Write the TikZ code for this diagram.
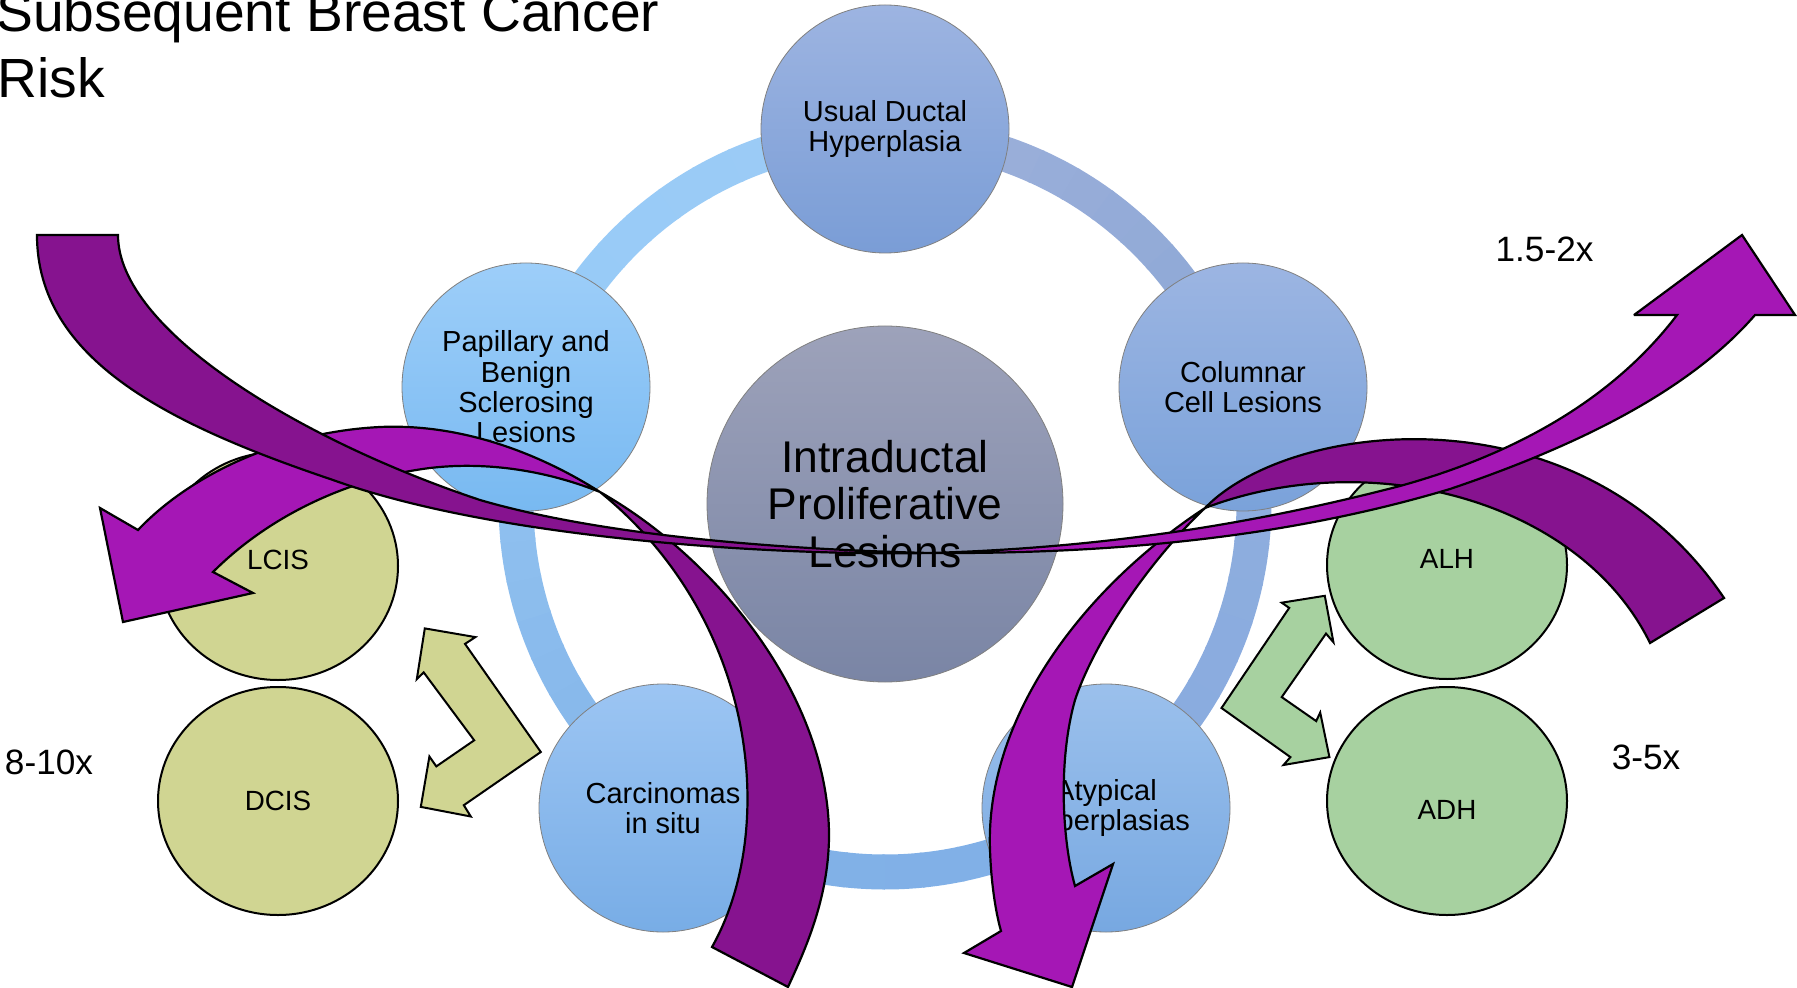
\documentclass[tikz,border=0pt]{standalone}
\usepackage{fontspec}
\setmainfont{Liberation Sans}
\usetikzlibrary{shapes.geometric}
\definecolor{pdark}{HTML}{86138F}
\definecolor{plight}{HTML}{A517B5}
\definecolor{khaki}{HTML}{D0D592}
\definecolor{mint}{HTML}{A7D1A0}
\definecolor{cenTop}{HTML}{9DA2BA}
\definecolor{cenBot}{HTML}{7A85A5}
\definecolor{usTop}{HTML}{9DB4E1}
\definecolor{usBot}{HTML}{7A9DD6}
\definecolor{paTop}{HTML}{9DCEF9}
\definecolor{paBot}{HTML}{78B9F1}
\definecolor{coTop}{HTML}{9CB5E2}
\definecolor{coBot}{HTML}{7AA2DA}
\definecolor{caTop}{HTML}{9CC5F3}
\definecolor{caBot}{HTML}{78ADE6}
\definecolor{atTop}{HTML}{9BC0EC}
\definecolor{atBot}{HTML}{77A8E1}
\definecolor{rA}{HTML}{9DB1DB}
\definecolor{rB}{HTML}{8DA7D5}
\definecolor{rC}{HTML}{91AEDD}
\definecolor{rD}{HTML}{87ABE0}
\definecolor{rE}{HTML}{80AFE6}
\definecolor{rF}{HTML}{82B2E8}
\definecolor{rG}{HTML}{84B5E9}
\definecolor{rH}{HTML}{92C3F1}
\definecolor{rI}{HTML}{96CAF7}
\definecolor{rJ}{HTML}{9DCCF6}
\newcommand\myringarc[4]{%
  \foreach \k in {0,...,11}{%
    \pgfmathsetmacro\angA{#1+(#2-#1)*\k/12}%
    \pgfmathsetmacro\angB{#1+(#2-#1)*(\k+1)/12+0.4}%
    \pgfmathtruncatemacro\pmix{100-100*\k/11}%
    \draw[ringline, draw=#3!\pmix!#4] (C) ++(\angA:369) arc[start angle=\angA, end angle=\angB, radius=369];
  }}
\tikzset{
  ringline/.style={line width=17.5pt},
  sat/.style={circle, minimum size=124pt, inner sep=0pt, draw=black!50, line width=0.4pt, align=center, font=\fontsize{14.5}{15.2}\selectfont},
  lobe/.style={ellipse, minimum width=120pt, minimum height=114pt, inner sep=0pt, draw=black, line width=1pt, font=\fontsize{13.9}{15}\selectfont},
  lbl/.style={inner sep=0pt, font=\fontsize{17.6}{20}\selectfont},
  ttl/.style={anchor=base west, inner sep=0pt, font=\fontsize{27.6}{33}\selectfont},
  dbl/.style={draw=black, line width=1pt, line join=miter},
  arrowline/.style={draw=black, line width=1.1pt, line join=miter, miter limit=3},
}
\begin{document}
\begin{tikzpicture}[x=0.5pt,y=-0.5pt]
\useasboundingbox (0,0) rectangle (1797,988);
\clip (0,0) rectangle (1797,988);
\fill[white] (0,0) rectangle (1797,988);

% ring
\coordinate (C) at (885,503);
\myringarc{270}{342}{rA}{rB}
\myringarc{342}{414}{rC}{rD}
\myringarc{54}{126}{rE}{rF}
\myringarc{126}{198}{rG}{rH}
\myringarc{198}{270}{rI}{rJ}

% centre
\node[circle, minimum size=178pt, inner sep=0pt, draw=black!50, line width=0.4pt,
      top color=cenTop, bottom color=cenBot, align=center,
      font=\fontsize{22.2}{23.75}\selectfont] (center) at (885,504) {Intraductal\\Proliferative\\Lesions};

% satellites
\node[sat, top color=usTop, bottom color=usBot] (usual) at (885,129) {Usual Ductal\\Hyperplasia};
\node[sat, top color=paTop, bottom color=paBot] (papillary) at (526,387) {Papillary and\\Benign\\Sclerosing\\Lesions};
\node[sat, top color=coTop, bottom color=coBot] (columnar) at (1243,387) {Columnar\\Cell Lesions};
\node[sat, top color=caTop, bottom color=caBot] (carcinomas) at (663,808) {Carcinomas\\in situ};
\node[sat, top color=atTop, bottom color=atBot] (atypical) at (1106,808) {Atypical\\Hyperplasias};

% lobes
\node[lobe, fill=khaki, text depth=6pt] (lcis) at (278,566) {LCIS};
\node[lobe, fill=khaki] (dcis) at (278,801) {DCIS};
\node[lobe, fill=mint, text depth=6pt] (alh) at (1447,565) {ALH};
\node[lobe, fill=mint, text height=18.5pt] (adh) at (1447,801) {ADH};

% double arrows
\filldraw[dbl, fill=khaki] (424.8,628.4) -- (475.4,637.1) -- (465,643.9) -- (540.8,752) -- (463.8,805.2) -- (470.8,816.5) -- (420.8,806.9) -- (429.4,756.5) -- (436.3,766.4) -- (474.2,740.3) -- (423.7,672.4) -- (416.8,679.2) -- cycle;
\filldraw[dbl, fill=mint] (1324.8,595.8) -- (1333.4,642.2) -- (1326,633.6) -- (1281.7,697.1) -- (1316.2,721.1) -- (1320.2,712.5) -- (1329.4,757.1) -- (1283.5,765) -- (1290.4,757.1) -- (1221.5,708) -- (1289.2,607.9) -- (1281.7,602.7) -- cycle;

% labels
\node[lbl] (r1) at (1544.5,249) {1.5-2x};
\node[lbl] (r2) at (49,762) {8-10x};
\node[lbl] (r3) at (1646,757) {3-5x};

% title
\node[ttl] (title1) at (-4,31.7) {Subsequent Breast Cancer};
\node[ttl] (title2) at (-3,97.3) {Risk};

% arrow 3 (left, to LCIS)
\filldraw[arrowline, fill=plight] (138,530) .. controls (190,475) and (280,432) .. (380,427)
  .. controls (470,423) and (550,460) .. (600,492)
  .. controls (540,468) and (480,462) .. (430,468)
  .. controls (350,478) and (270,515) .. (213,572)
  -- (253,593) -- (123,622) -- (100,508) -- cycle;
\filldraw[arrowline, fill=pdark] (600,492) .. controls (720,560) and (830,700) .. (829,838)
  .. controls (828,900) and (805,950) .. (788,987)
  -- (712,947) .. controls (778,830) and (758,620) .. (600,492) -- cycle;

% arrow 4 (right, to atypical)
\filldraw[arrowline, fill=pdark] (1205,508) .. controls (1290,420) and (1580,385) .. (1724,598)
  -- (1650,643) .. controls (1580,500) and (1370,445) .. (1205,508) -- cycle;
\filldraw[arrowline, fill=plight] (1205,508) .. controls (1080,590) and (985,720) .. (990,850)
  .. controls (991,880) and (995,910) .. (1001,931)
  -- (964,953) -- (1072,987) -- (1113,864) -- (1075,886)
  .. controls (1062,840) and (1058,760) .. (1075,700)
  .. controls (1095,640) and (1150,560) .. (1205,508) -- cycle;

% arrow 1 (top-left tail to top-right head)
\filldraw[arrowline, fill=pdark] (37,235) -- (118,235)
  .. controls (118,330) and (300,440) .. (480,500)
  .. controls (610,538) and (800,550) .. (930,553)
  .. controls (780,556) and (500,540) .. (333,480)
  .. controls (170,425) and (37,360) .. (37,235) -- cycle;
\filldraw[arrowline, fill=plight] (930,553) .. controls (1100,548) and (1250,525) .. (1400,486)
  .. controls (1530,450) and (1620,390) .. (1677,315)
  -- (1634,315) -- (1742,235) -- (1795,315) -- (1755,315)
  .. controls (1690,390) and (1580,445) .. (1450,489)
  .. controls (1280,540) and (1100,554) .. (930,553) -- cycle;
\end{tikzpicture}
\end{document}
